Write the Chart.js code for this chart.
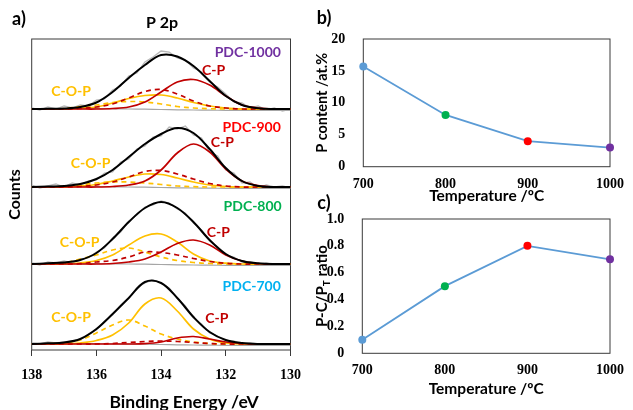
<!DOCTYPE html>
<html>
<head>
<meta charset="utf-8">
<script src="https://cdn.jsdelivr.net/npm/chart.js@4.4.1/dist/chart.umd.min.js"></script>
<style>
  html, body { margin: 0; padding: 0; background: #fff; }
  body { width: 633px; height: 410px; position: relative; overflow: hidden; }
  .box { position: absolute; }
  #boxA { left: 0; top: 0; width: 312px; height: 410px; }
  #boxB { left: 310px; top: 0; width: 323px; height: 205px; }
  #boxC { left: 310px; top: 190px; width: 323px; height: 220px; }
</style>
</head>
<body>
<div class="box" id="boxA"><canvas id="chartA"></canvas></div>
<div class="box" id="boxB"><canvas id="chartB"></canvas></div>
<div class="box" id="boxC"><canvas id="chartC"></canvas></div>
<script>
// ---- panel a: P 2p spectra (heights above each baseline, a.u.)
const bindingEnergy = [138, 137.5, 137, 136.5, 136, 135.5, 135, 134.5, 134, 133.5, 133, 132.5, 132, 131.5, 131, 130.5, 130];
const rawEnergy = [138, 137.75, 137.5, 137.25, 137, 136.75, 136.5, 136.25, 136, 135.75, 135.5, 135.25, 135,
                   134.75, 134.5, 134.25, 134, 133.75, 133.5, 133.25, 133, 132.75, 132.5, 132.25, 132,
                   131.75, 131.5, 131.25, 131, 130.75, 130.5, 130.25, 130];
const samples = ['PDC-700', 'PDC-800', 'PDC-900', 'PDC-1000'];
const offsets = [6, 86, 163, 241];
const background = [0.3, 0.3, 0.3, 0.3, 0.3, 0.2, 0, -0.2, -0.5, -0.8, -1, -1.2, -1.3, -1.3, -1.3, -1.3, -1.3];

const env700 = [0, 0.7, 1.5, 5, 15, 30, 46, 62, 61, 46, 27, 12, 4, 1, 0, 0, 0];
const cop700 = [0, 0, 0, 1, 3.5, 9, 21, 40, 46, 33, 15, 5, 1, 0, 0, 0, 0];
const copD700 = [0, 0.3, 1, 4, 11, 19, 24, 18, 10, 5, 2, 0.5, 0, 0, 0, 0, 0];
const cp700 = [0, 0, 0, 0, 0, 0, 0, 0.3, 2, 6, 7.5, 5, 2, 0.5, 0, 0, 0];
const cpD700 = [0, 0, 0, 0, 0, 0.5, 1.5, 2.5, 3, 2.5, 1.5, 0.5, 0, 0, 0, 0, 0];
const raw700 = [1, 0, 2, 1, 2, 3, 4, 10, 14, 23, 29, 39, 46, 56, 61, 64, 61, 56, 46, 38, 26, 20, 11, 8, 3, 3, 0, 1, 0, -1, 0, 0, 0];

const env800 = [0, 0.7, 1.5, 4, 11, 25, 42, 56, 62, 56, 42, 24, 10, 3, 0.7, 0, 0];
const cop800 = [0, 0, 0, 1, 3.5, 9, 19, 28, 30, 22, 10, 3, 0.8, 0, 0, 0, 0];
const copD800 = [0, 0.3, 1, 5, 9, 14, 16, 12, 7, 3.5, 1.5, 0.5, 0, 0, 0, 0, 0];
const cp800 = [0, 0, 0, 0, 0, 0.5, 2, 5, 12, 20.5, 24, 19, 9, 3, 0.5, 0, 0];
const cpD800 = [0, 0, 0, 0.3, 2, 3.5, 7, 12, 11.5, 9, 5.5, 2.5, 0.7, 0, 0, 0, 0];
const raw800 = [1, -1, 2, 1, 3, 1, 5, 6, 12, 16, 26, 32, 43, 49, 57, 59, 63, 61, 55, 51, 41, 34, 23, 17, 9, 7, 2, 2, 0, 1, -1, 0, 0];

const env900 = [0, 0.5, 1, 3, 8, 17, 30, 43, 53, 59, 54, 38, 19, 6, 1, 0, 0];
const cop900 = [0, 0, 0, 1, 2.5, 6, 10, 13, 12.5, 9, 5, 2, 0.5, 0, 0, 0, 0];
const copD900 = [0, 0.2, 0.5, 2, 4, 5, 5, 4, 2.5, 1, 0.3, 0, 0, 0, 0, 0, 0];
const cp900 = [0, 0, 0, 0, 0, 0.5, 2, 6, 17, 34, 43, 35, 18, 6, 1.5, 0, 0];
const cpD900 = [0, 0, 0, 0.5, 2, 5, 10, 15.5, 16.5, 13, 8, 3.5, 1, 0, 0, 0, 0];
const raw900 = [2, -1, 1, 3, 0, 4, 2, 6, 7, 14, 15, 25, 28, 38, 41, 50, 51, 60, 58, 61, 52, 49, 35, 31, 17, 14, 4, 5, -1, 2, 0, 1, -1];

const env1000 = [0, 0.2, 0.5, 2, 6.5, 17, 31, 44, 54, 52.5, 43, 28, 13, 4, 0.7, 0, 0];
const cop1000 = [0, 0, 0, 1, 2, 6, 10.5, 13.5, 14, 11, 6.5, 3, 1, 0, 0, 0, 0];
const copD1000 = [0, 0, 0.5, 2.5, 4, 6.5, 7.5, 7, 5, 2.5, 1, 0.3, 0, 0, 0, 0, 0];
const cp1000 = [0, 0, 0, 0, 0, 0.5, 2, 7, 17, 27, 29.5, 24, 13, 4, 1, 0, 0];
const cpD1000 = [0, 0, 0, 0.5, 2, 5, 11, 17.5, 19.5, 15, 8, 3, 1, 0, 0, 0, 0];
const raw1000 = [1, -1, 2, 0, 3, 1, 4, 3, 9, 10, 19, 23, 33, 36, 47, 52, 58, 57, 51, 49, 41, 37, 27, 22, 15, 7, 6, 1, 3, -1, 1, -2, 0];

// ---- panels b and c
const temperatures = ['700', '800', '900', '1000'];
const pContent = [15.7, 8.1, 4.0, 3.0];
const pcRatio = [0.1, 0.5, 0.8, 0.7];
const markerColors = ['#5B9BD5', '#00B050', '#FF0000', '#7030A0'];

const fits = [
  { env: env700, cp: cp700, cpD: cpD700, cop: cop700, copD: copD700, raw: raw700 },
  { env: env800, cp: cp800, cpD: cpD800, cop: cop800, copD: copD800, raw: raw800 },
  { env: env900, cp: cp900, cpD: cpD900, cop: cop900, copD: copD900, raw: raw900 },
  { env: env1000, cp: cp1000, cpD: cpD1000, cop: cop1000, copD: copD1000, raw: raw1000 }
];

const SANS = 'Lato, "Open Sans", sans-serif';
const SERIF = '"Liberation Serif", "DejaVu Serif", serif';
const tickFont = { family: SERIF, weight: 'bold', size: 14 };
const titleFont = { family: SANS, weight: 'bold', size: 15.5 };

function pts(xs, ys, off) {
  return xs.map((x, i) => ({ x: x, y: ys[i] + off }));
}

function line(data, color, width, dash, order, smooth) {
  return {
    data: data, borderColor: color, borderWidth: width, borderDash: dash || [],
    pointRadius: 0, fill: false, order: order,
    tension: smooth ? 0.35 : 0
  };
}

const specSets = [];
fits.forEach((f, k) => {
  const off = offsets[k];
  specSets.push(line(pts(rawEnergy, f.raw, off), '#B8B8B8', 1.3, null, 7, false));
  specSets.push(line(pts(bindingEnergy, background, off), '#A6A6A6', 1.2, null, 6, true));
  specSets.push(line(pts(bindingEnergy, f.copD, off), '#FFC000', 1.7, [5, 4], 5, true));
  specSets.push(line(pts(bindingEnergy, f.cop, off), '#FFC000', 1.7, null, 4, true));
  specSets.push(line(pts(bindingEnergy, f.cpD, off), '#C00000', 1.7, [5, 4], 3, true));
  specSets.push(line(pts(bindingEnergy, f.cp, off), '#C00000', 1.7, null, 2, true));
  specSets.push(line(pts(bindingEnergy, f.env, off), '#000000', 2, null, 1, true));
});

// plugins: plot frame and free text
const frame = {
  id: 'frame',
  beforeDatasetsDraw(chart) {
    const { ctx, chartArea: a } = chart;
    ctx.save();
    ctx.strokeStyle = '#3a3a3a';
    ctx.lineWidth = 1;
    ctx.strokeRect(a.left, a.top, a.right - a.left, a.bottom - a.top);
    ctx.restore();
  }
};

const notes = {
  id: 'notes',
  afterDraw(chart, args, opts) {
    const ctx = chart.ctx;
    (opts.items || []).forEach(n => {
      let x = n.x, y = n.y;
      if (n.data) {
        x = chart.scales.x.getPixelForValue(n.x);
        y = chart.scales.y.getPixelForValue(n.y);
      }
      if (n.y === 'mid') y = (chart.chartArea.top + chart.chartArea.bottom) / 2;
      const size = n.size || 14;
      ctx.save();
      ctx.translate(x, y);
      if (n.rotate) ctx.rotate(n.rotate);
      ctx.fillStyle = n.color || '#000';
      ctx.textBaseline = 'middle';
      const parts = n.parts || [{ t: n.text }];
      const fontFor = p => 'bold ' + (p.sub ? Math.round(size * 0.65) : size) + 'px ' + SANS;
      let total = 0;
      parts.forEach(p => { ctx.font = fontFor(p); total += ctx.measureText(p.t).width; });
      let cx = -total / 2;
      ctx.textAlign = 'left';
      parts.forEach(p => {
        ctx.font = fontFor(p);
        ctx.fillText(p.t, cx, p.sub ? size * 0.3 : 0);
        cx += ctx.measureText(p.t).width;
      });
      ctx.restore();
    });
  }
};

// ---- chart a
new Chart(document.getElementById('chartA'), {
  type: 'line',
  data: { datasets: specSets },
  plugins: [frame, notes],
  options: {
    responsive: true, maintainAspectRatio: false, animation: false,
    layout: { padding: { top: 39, right: 13.7, left: 0, bottom: 0 } },
    plugins: {
      legend: { display: false }, tooltip: { enabled: false },
      notes: {
        items: [
          { text: 'a)', x: 19, y: 19, size: 18 },
          { text: 'P 2p', x: 162, y: 23, size: 16 },
          { text: 'Binding Energy /eV', x: 184, y: 402, size: 17.5 },
          { text: samples[3], data: true, x: 131.32, y: 298, color: '#7030A0' },
          { text: 'C-P', data: true, x: 132.38, y: 280, color: '#C00000' },
          { text: 'C-O-P', data: true, x: 136.78, y: 259, color: '#FFC000' },
          { text: samples[2], data: true, x: 131.2, y: 223, color: '#FF0000' },
          { text: 'C-P', data: true, x: 132.11, y: 208, color: '#C00000' },
          { text: 'C-O-P', data: true, x: 136.18, y: 187, color: '#FFC000' },
          { text: samples[1], data: true, x: 131.17, y: 144, color: '#00B050' },
          { text: 'C-P', data: true, x: 132.23, y: 118, color: '#C00000' },
          { text: 'C-O-P', data: true, x: 136.52, y: 108, color: '#FFC000' },
          { text: samples[0], data: true, x: 131.2, y: 64, color: '#00B0F0' },
          { text: 'C-O-P', data: true, x: 136.78, y: 33, color: '#FFC000' },
          { text: 'C-P', data: true, x: 132.28, y: 32, color: '#C00000' }
        ]
      }
    },
    scales: {
      x: {
        type: 'linear', reverse: true, min: 130, max: 138,
        ticks: { stepSize: 2, color: '#000', font: tickFont, padding: 11 },
        grid: { drawOnChartArea: false, drawTicks: true, tickLength: 6, color: '#3a3a3a' },
        border: { display: false },
        afterFit: s => { s.height = 60; }
      },
      y: {
        min: 0, max: 311,
        ticks: { display: false }, grid: { display: false }, border: { display: false },
        title: { display: true, text: 'Counts', color: '#000', font: { family: SANS, weight: 'bold', size: 16 }, padding: { top: 5, bottom: 0 } },
        afterFit: s => { s.width = 31.7; }
      }
    }
  }
});

// ---- charts b and c
function tempChart(id, values, yMin, yMax, step, pad, xHeight, yWidth, yTitle, items) {
  return new Chart(document.getElementById(id), {
    type: 'line',
    data: {
      labels: temperatures,
      datasets: [{
        data: values, borderColor: '#5B9BD5', borderWidth: 1.8, tension: 0,
        pointRadius: 4, pointBackgroundColor: markerColors, pointBorderColor: markerColors,
        pointBorderWidth: 0, clip: false
      }]
    },
    plugins: [frame, notes],
    options: {
      responsive: true, maintainAspectRatio: false, animation: false,
      layout: { padding: pad },
      plugins: { legend: { display: false }, tooltip: { enabled: false }, notes: { items: items } },
      scales: {
        x: {
          offset: false,
          ticks: { color: '#000', font: tickFont, padding: 9, maxRotation: 0 },
          grid: { drawOnChartArea: false, drawTicks: false },
          border: { display: false },
          title: { display: true, text: 'Temperature /ºC', color: '#000', font: titleFont, padding: 0 },
          afterFit: s => { s.height = xHeight; }
        },
        y: {
          min: yMin, max: yMax,
          ticks: { stepSize: step, color: '#000', font: tickFont, padding: 10 },
          grid: { display: false },
          border: { display: false },
          title: yTitle,
          afterFit: s => { s.width = yWidth; }
        }
      }
    }
  });
}

tempChart('chartB', pContent, 0, 20, 5,
  { top: 39, right: 15.3, left: 0, bottom: 0 }, 38.3, 53.3,
  { display: true, text: 'P content /at.%', color: '#000', font: { family: SANS, weight: 'bold', size: 14.5 }, padding: { top: 3.6, bottom: 0 } },
  [{ text: 'b)', x: 14, y: 18, size: 18 }]);

tempChart('chartC', pcRatio, 0, 1, 0.2,
  { top: 29, right: 15.3, left: 0, bottom: 11.6 }, 45.1, 52.3,
  { display: false },
  [{ text: 'c)', x: 14, y: 13, size: 18 },
   { parts: [{ t: 'P-C/P' }, { t: 'T', sub: true }, { t: ' ratio' }], x: 12, y: 'mid', size: 15, rotate: -Math.PI / 2 }]);
</script>
</body>
</html>
